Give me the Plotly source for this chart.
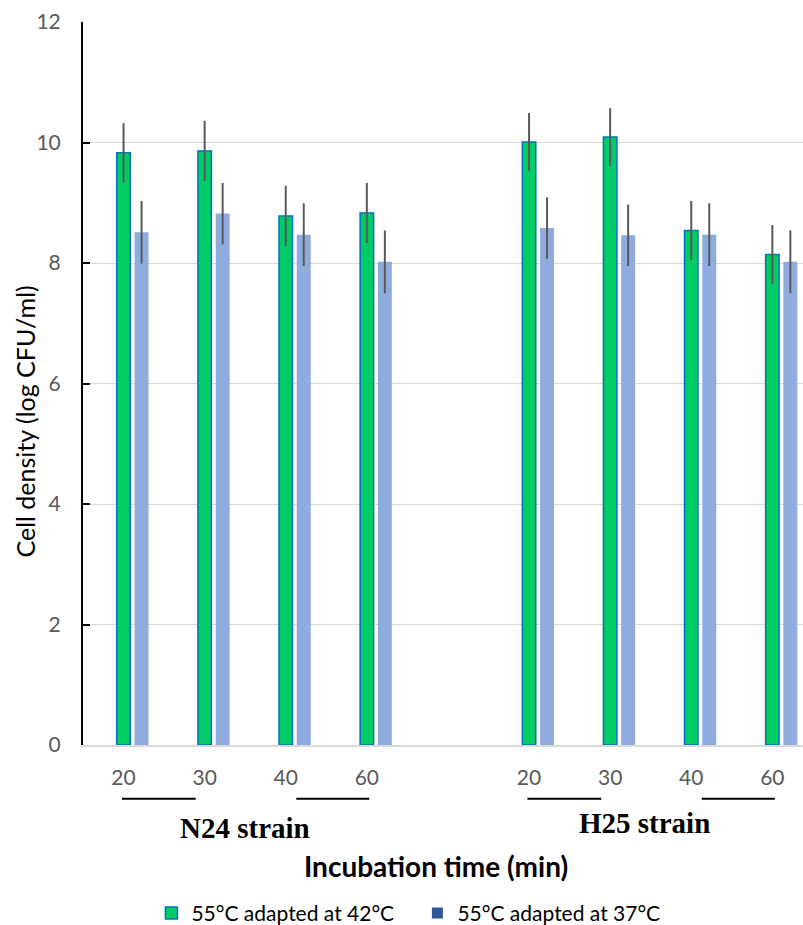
import plotly.graph_objects as go

# Incubation times (min) shown under each strain group
times = ["20", "30", "40", "60"]
strains = ["N24 strain", "H25 strain"]
series_names = ["55°C adapted at 42°C", "55°C adapted at 37°C"]

# Cell density (log CFU/ml), one list per strain and adaptation temperature
n24_adapt42 = [9.83, 9.86, 8.78, 8.83]
n24_adapt37 = [8.51, 8.82, 8.47, 8.02]
h25_adapt42 = [10.01, 10.09, 8.54, 8.14]
h25_adapt37 = [8.58, 8.46, 8.47, 8.02]

# Standard deviation for each bar
n24_err42 = [0.49, 0.50, 0.50, 0.50]
n24_err37 = [0.52, 0.51, 0.52, 0.52]
h25_err42 = [0.48, 0.48, 0.49, 0.49]
h25_err37 = [0.51, 0.51, 0.52, 0.52]

y_ticks = [0, 2, 4, 6, 8, 10, 12]

# Category slots: N24 uses 0..3, slot 4 is left empty, H25 uses 5..8
group_start = [0, 5]
slots = [g + i for g in group_start for i in range(len(times))]
vals42 = n24_adapt42 + h25_adapt42
vals37 = n24_adapt37 + h25_adapt37
err42 = n24_err42 + h25_err42
err37 = n24_err37 + h25_err37

GREEN = "#00CC66"
GREEN_EDGE = "#0070C0"
LIGHT_BLUE = "#8FAADC"
DARK_BLUE = "#2F5597"
ERR = "#595959"
SANS = "Lato, 'Open Sans', sans-serif"
SERIF = "'Liberation Serif', 'Times New Roman', serif"

W42 = 0.166
W37 = 0.172
SHIFT37 = 0.222

fig = go.Figure()

fig.add_trace(go.Bar(
    x=slots, y=vals42, width=W42, offset=-W42 / 2,
    marker=dict(color=GREEN, line=dict(color=GREEN_EDGE, width=1.5)),
    error_y=dict(type="data", array=err42, color=ERR, thickness=2, width=0),
    showlegend=False, name=series_names[0],
))
fig.add_trace(go.Bar(
    x=slots, y=vals37, width=W37, offset=SHIFT37 - W37 / 2,
    marker=dict(color=LIGHT_BLUE, line=dict(width=0)),
    error_y=dict(type="data", array=err37, color=ERR, thickness=2, width=0),
    showlegend=False, name=series_names[1],
))

# Legend entries
fig.add_trace(go.Scatter(
    x=[None], y=[None], mode="markers", name=series_names[0],
    marker=dict(symbol="square", size=12, color=GREEN,
                line=dict(color=GREEN_EDGE, width=1.5)),
))
fig.add_trace(go.Scatter(
    x=[None], y=[None], mode="markers", name=series_names[1],
    marker=dict(symbol="square", size=11, color=DARK_BLUE,
                line=dict(width=0)),
))

# Group underlines and strain labels below the time labels
underline_spans = [(-0.02, 0.89), (2.13, 3.03)]
label_shift = [0.0, -0.08]
label_y = [-0.115, -0.108]
for g, strain, dx, ly in zip(group_start, strains, label_shift, label_y):
    for a, b in underline_spans:
        fig.add_shape(type="line", xref="x", yref="paper",
                      x0=g + a, x1=g + b, y0=-0.0745, y1=-0.0745,
                      line=dict(color="black", width=2))
    fig.add_annotation(x=g + 1.5 + dx, y=ly, xref="x", yref="paper",
                       text=f"<b>{strain}</b>", showarrow=False,
                       xanchor="center", yanchor="middle",
                       font=dict(family=SERIF, size=29, color="black"))

fig.add_annotation(x=0.49, y=-0.168, xref="paper", yref="paper",
                   text="<b>Incubation time (min)</b>", showarrow=False,
                   xanchor="center", yanchor="middle",
                   font=dict(family=SANS, size=28, color="black"))

fig.add_annotation(x=-0.081, y=0.447, xref="paper", yref="paper",
                   text="Cell density (log CFU/ml)", showarrow=False,
                   textangle=-90, xanchor="center", yanchor="middle",
                   font=dict(family=SANS, size=25, color="black"))

fig.update_layout(
    width=803, height=925,
    margin=dict(l=83, r=0, t=22, b=180, autoexpand=False),
    paper_bgcolor="white", plot_bgcolor="white",
    barmode="overlay",
    font=dict(family=SANS, color="#595959"),
    legend=dict(orientation="h", x=0.095, y=-0.233, xanchor="left",
                yanchor="middle", font=dict(family=SANS, size=21, color="black"),
                itemwidth=30, traceorder="normal",
                entrywidth=221, entrywidthmode="pixels"),
    xaxis=dict(
        range=[-0.5, 8.378], tickmode="array", tickvals=slots,
        ticktext=times * len(strains), ticks="", showgrid=False,
        showline=True, linecolor="#D9D9D9", linewidth=1.5,
        tickfont=dict(family=SANS, size=21, color="#595959"),
        ticklabelstandoff=13, zeroline=False,
    ),
    yaxis=dict(
        range=[0, 12], tickvals=y_ticks, showgrid=True,
        gridcolor="#D9D9D9", gridwidth=1.3, zeroline=False,
        showline=True, linecolor="black", linewidth=2,
        ticks="inside", ticklen=7, tickwidth=2, tickcolor="black",
        tickfont=dict(family=SANS, size=21, color="#595959"),
        ticklabelstandoff=16,
    ),
)

fig.write_html("out.html")
